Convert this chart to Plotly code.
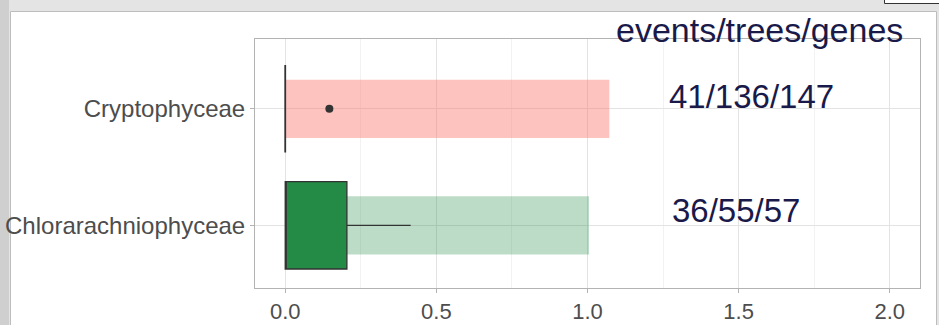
import plotly.graph_objects as go

# Categories (bottom to top)
groups = ["Chlorarachniophyceae", "Cryptophyceae"]

# Background bar length per group
bar_values = [1.005, 1.072]

# Precomputed boxplot statistics per group
box_lower = [0.0, 0.0]
box_q1 = [0.0, 0.0]
box_median = [0.0, 0.0]
box_q3 = [0.204, 0.0]
box_upper = [0.415, 0.0]

# Outliers
outlier_groups = ["Cryptophyceae"]
outlier_values = [0.146]

# Count labels
count_labels = ["36/55/57", "41/136/147"]
count_title = "events/trees/genes"

x_ticks = [0.0, 0.5, 1.0, 1.5, 2.0]

bar_colors = ["rgba(35,139,69,0.30)", "rgba(248,118,109,0.44)"]
box_fill = "#238B45"
ink = "#333333"
font_family = "Liberation Sans, Arial, Helvetica, sans-serif"

W, H = 939, 325
ML, MR, MT, MB = 255, 19, 39, 37
PW, PH = W - ML - MR, H - MT - MB


def px(X):
    return (X - ML) / PW


def py(Y):
    return (H - MB - Y) / PH


fig = go.Figure()

fig.add_trace(go.Bar(
    y=groups, x=bar_values, orientation="h", width=0.5,
    marker=dict(color=bar_colors, line=dict(width=0)),
    showlegend=False, hoverinfo="skip",
))

# Green box for the first group, degenerate box (line) for the second
fig.add_trace(go.Box(
    y=[groups[0]], orientation="h",
    lowerfence=[box_lower[0]], q1=[box_q1[0]], median=[box_median[0]],
    q3=[box_q3[0]], upperfence=[box_upper[0]],
    width=0.75, whiskerwidth=0,
    fillcolor=box_fill, line=dict(color=ink, width=1.3),
    showlegend=False,
))
fig.add_trace(go.Box(
    y=[groups[1]], orientation="h",
    lowerfence=[box_lower[1]], q1=[box_q1[1]], median=[box_median[1]],
    q3=[box_q3[1]], upperfence=[box_upper[1]],
    width=0.75, whiskerwidth=0,
    fillcolor="#F8766D", line=dict(color=ink, width=1.8),
    showlegend=False,
))

fig.add_trace(go.Scatter(
    y=outlier_groups, x=outlier_values, mode="markers",
    marker=dict(color=ink, size=8),
    showlegend=False,
))

label_pos = [(1.272, 0.127), (1.262, 1.104)]
for (lx, ly), txt in zip(label_pos, count_labels):
    fig.add_annotation(
        x=lx, y=ly, xref="x", yref="y", text=txt, showarrow=False,
        xanchor="left", yanchor="middle",
        font=dict(size=33, color="#1A1A4A", family=font_family),
    )

fig.add_annotation(
    x=px(759), y=py(30), xref="paper", yref="paper", text=count_title,
    showarrow=False, xanchor="center", yanchor="middle",
    font=dict(size=34, color="#1A1A4A", family=font_family),
)

# Page frame around the figure
shapes = [
    dict(type="rect", xref="paper", yref="paper", layer="below",
         x0=px(0), x1=px(W), y0=py(0), y1=py(H),
         fillcolor="#E4E4E4", line=dict(width=0)),
    dict(type="rect", xref="paper", yref="paper", layer="below",
         x0=px(0), x1=px(9), y0=py(0), y1=py(H),
         fillcolor="#CFCFCF", line=dict(width=0)),
    dict(type="rect", xref="paper", yref="paper", layer="below",
         x0=px(10.5), x1=px(936.5), y0=py(11.5), y1=py(H + 5),
         fillcolor="white", line=dict(color="#BDBDBD", width=1)),
    dict(type="rect", xref="paper", yref="paper", layer="below",
         x0=px(884.5), x1=px(W + 5), y0=py(-5), y1=py(3.5),
         fillcolor="white", line=dict(color="#333333", width=1)),
]

fig.update_layout(
    width=W, height=H,
    margin=dict(l=ML, r=MR, t=MT, b=MB, pad=0, autoexpand=False),
    paper_bgcolor="white", plot_bgcolor="white",
    barmode="overlay", boxmode="overlay",
    font=dict(family=font_family, color="#4D4D4D"),
    shapes=shapes,
    xaxis=dict(
        automargin=False,
        range=[-0.1, 2.1], tickvals=x_ticks,
        ticktext=[f"{v:.1f}" for v in x_ticks],
        showgrid=True, gridcolor="#E3E3E3", gridwidth=1,
        minor=dict(dtick=0.25, tick0=0, showgrid=True,
                   gridcolor="#F2F2F2", gridwidth=1, ticklen=0),
        zeroline=False, showline=True, mirror=True,
        linecolor="#B3B3B3", linewidth=1,
        ticks="outside", ticklen=4, tickcolor="#B3B3B3",
        tickfont=dict(size=22, color="#4D4D4D"),
    ),
    yaxis=dict(
        automargin=False,
        type="category", categoryorder="array", categoryarray=groups,
        range=[-0.538, 1.599],
        showgrid=True, gridcolor="#E3E3E3", gridwidth=1,
        zeroline=False, showline=True, mirror=True,
        linecolor="#B3B3B3", linewidth=1,
        ticks="outside", ticklen=4, tickcolor="#B3B3B3",
        tickfont=dict(size=24, color="#4D4D4D"),
    ),
)

fig.write_html("out.html")
